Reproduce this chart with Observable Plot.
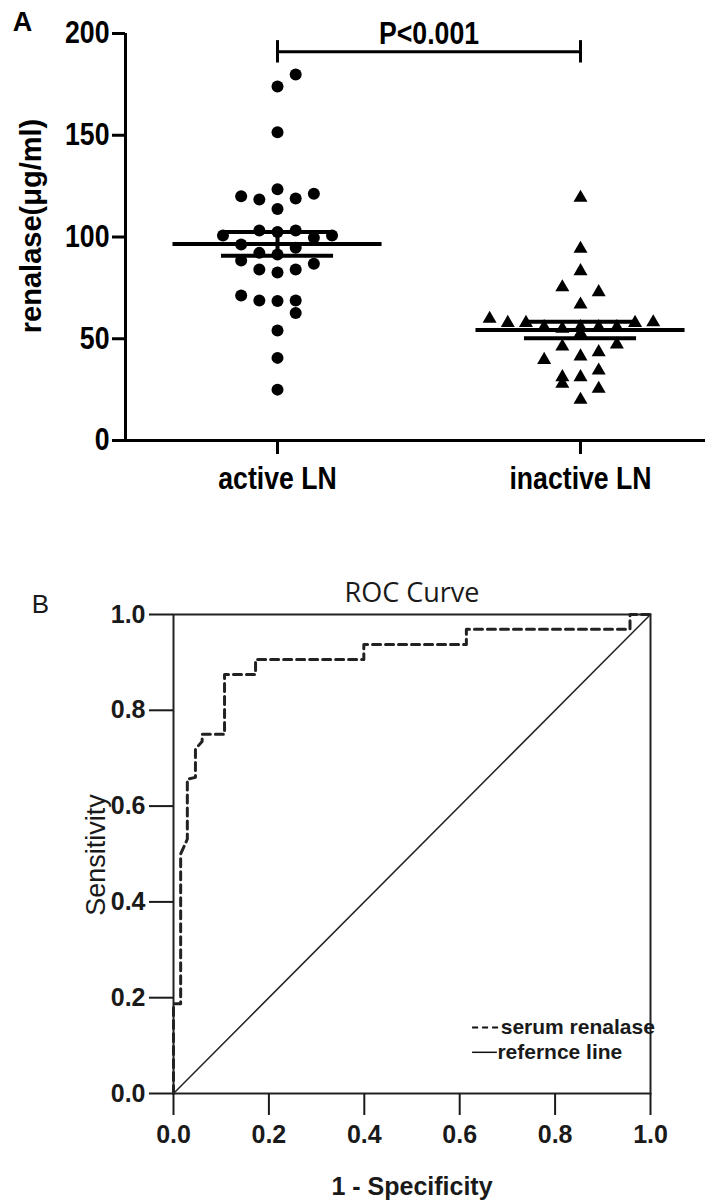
<!DOCTYPE html>
<html><head><meta charset="utf-8">
<script src="https://cdn.jsdelivr.net/npm/d3@7"></script>
<script src="https://cdn.jsdelivr.net/npm/@observablehq/plot@0.6"></script>
<style>
html,body{margin:0;padding:0;background:#fff;}
#chart svg{display:block;}
</style></head><body><div id="chart"></div>
<script>
// ---------- Panel A data ----------
const groups = ["active LN", "inactive LN"];
const yTicksA = [0, 50, 100, 150, 200];
const activeValues = [179.9,174,151.5,120,118.4,123.5,118.9,121.2,113.8,100.7,103.2,102.4,103.2,100.7,99.6,96.3,94.7,92.2,91.4,88.5,86.8,84,82.6,84,71.3,68.8,68.5,68.8,62.7,54,40.6,25];
const activeSlots  = [1,0,0,-2,-1,0,1,2,0,-3,-1,0,1,3,2,-2,1,-1,0,-2,2,-1,0,1,-2,-1,0,1,1,0,0,0];
const inactiveValues = [119.3,94.2,83.2,75.3,72.9,66.8,59.8,57.8,57.8,55.7,54.9,55.7,55.7,55.7,57.8,58.1,52.7,46.2,47.2,39.6,41.3,43.4,34.4,31.1,27.9,31.1,25.4,20];
const inactiveSlots  = [0,0,0,-1,1,0,-5,-4,-3,-2,-1,0,1,2,3,4,0,-1,2,-2,0,1,1,-1,-1,0,1,0];
const pLabel = "P<0.001";
const yLabelA = "renalase(μg/ml)";

// ---------- Panel B data ----------
const rocFPR = [0,0,0.015,0.015,0.029,0.029,0.046,0.046,0.060,0.060,0.107,0.107,0.172,0.172,0.399,0.399,0.614,0.614,0.957,0.957,1];
const rocTPR = [0,0.1875,0.1875,0.5,0.531,0.656,0.66,0.719,0.735,0.75,0.75,0.875,0.875,0.906,0.906,0.9375,0.9375,0.969,0.969,1,1];
const refFPR = [0, 1];
const refTPR = [0, 1];
const rocTicks = [0, 0.2, 0.4, 0.6, 0.8, 1.0];
const legendLabels = ["serum renalase", "refernce line"];

// ---------- build ----------
const sans = "'Liberation Sans',Arial,Helvetica,sans-serif";
const slotStep = 0.06;

const activeData = activeValues.map((v, i) => ({x: 1 + activeSlots[i] * slotStep, y: v}));
const inactiveData = inactiveValues.map((v, i) => ({x: 2 + inactiveSlots[i] * slotStep, y: v}));
const stats = [activeValues, inactiveValues].map((vals, i) => {
  const m = d3.mean(vals), s = d3.deviation(vals) / Math.sqrt(vals.length);
  return {x: i + 1, mean: m, lo: m - s, hi: m + s};
});
const xDomA = [0.4983, 2.4125];

const plotA = Plot.plot({
  width: 723, height: 530,
  marginTop: 33, marginBottom: 90, marginLeft: 125, marginRight: 18,
  style: {fontFamily: sans, color: "black", background: "white"},
  x: {domain: xDomA},
  y: {domain: [0, 200]},
  marks: [
    Plot.ruleY([0], {strokeWidth: 3}),
    Plot.ruleX([xDomA[0]], {y1: 0, y2: 200, strokeWidth: 3}),
    Plot.axisY({ticks: yTicksA, tickSize: 13, tickPadding: 3, strokeWidth: 3, fontSize: 31, fontWeight: "bold", label: null}),
    Plot.axisX({ticks: [1, 2], tickFormat: d => groups[d - 1], tickSize: 14, tickPadding: 12, strokeWidth: 3, fontSize: 31, fontWeight: "bold", label: null}),
    Plot.text([yLabelA], {frameAnchor: "left", textAnchor: "middle", lineAnchor: "middle", rotate: -90, dx: -94, dy: -11, fontSize: 29, fontWeight: "bold"}),
    Plot.text(["A"], {frameAnchor: "top-left", textAnchor: "middle", lineAnchor: "middle", dx: -103, dy: -11, fontSize: 27, fontWeight: "bold"}),
    Plot.dot(activeData, {x: "x", y: "y", r: 6, fill: "black"}),
    Plot.dot(inactiveData, {x: "x", y: "y", r: 5.2, symbol: "triangle", fill: "black"}),
    Plot.ruleY(stats, {y: "mean", x1: d => d.x - 0.345, x2: d => d.x + 0.345, strokeWidth: 4}),
    Plot.ruleY(stats, {y: "hi", x1: d => d.x - 0.185, x2: d => d.x + 0.185, strokeWidth: 4}),
    Plot.ruleY(stats, {y: "lo", x1: d => d.x - 0.185, x2: d => d.x + 0.185, strokeWidth: 4}),
    Plot.ruleX(stats, {x: "x", y1: "lo", y2: "hi", strokeWidth: 4}),
    Plot.ruleY([191], {x1: 1, x2: 2, strokeWidth: 3}),
    Plot.ruleX([1, 2], {y1: 185.5, y2: 196.5, strokeWidth: 3}),
    Plot.text([pLabel], {x: 1.5, y: 199.5, fontSize: 31, fontWeight: "bold"})
  ]
});

const roc = rocFPR.map((f, i) => ({x: f, y: rocTPR[i]}));
const ref = refFPR.map((f, i) => ({x: f, y: refTPR[i]}));

const plotB = Plot.plot({
  width: 723, height: 672,
  marginTop: 84, marginBottom: 109, marginLeft: 173, marginRight: 73,
  style: {fontFamily: sans, color: "#1a1a1a", background: "white"},
  x: {domain: [0, 1]},
  y: {domain: [0, 1]},
  marks: [
    Plot.frame({stroke: "#222", strokeWidth: 2}),
    Plot.axisY({ticks: rocTicks, tickFormat: ".1f", tickSize: 24, tickPadding: 4, strokeWidth: 2, fontSize: 25, fontWeight: "bold", label: null}),
    Plot.axisX({ticks: rocTicks, tickFormat: ".1f", tickSize: 22, tickPadding: 10, strokeWidth: 2, fontSize: 25, fontWeight: "bold", label: null}),
    Plot.line(ref, {x: "x", y: "y", stroke: "#222", strokeWidth: 1.5}),
    Plot.line(roc, {x: "x", y: "y", stroke: "#222", strokeWidth: 3, strokeDasharray: "8,5", curve: "linear"}),
    Plot.text(["ROC Curve"], {frameAnchor: "top", lineAnchor: "bottom", dy: -13, fontSize: 27, fontFamily: "'Open Sans','Noto Sans',sans-serif"}),
    Plot.text(["B"], {frameAnchor: "top-left", textAnchor: "middle", lineAnchor: "middle", dx: -133, dy: -10, fontSize: 26}),
    Plot.text(["Sensitivity"], {frameAnchor: "left", textAnchor: "middle", lineAnchor: "middle", rotate: -90, dx: -77, dy: 1, fontSize: 27}),
    Plot.text(["1 - Specificity"], {frameAnchor: "bottom", lineAnchor: "middle", dy: 93, fontSize: 25, fontWeight: "bold"}),
    Plot.ruleY([0.138], {x1: 0.627, x2: 0.684, stroke: "#111", strokeWidth: 2, strokeDasharray: "6,4"}),
    Plot.ruleY([0.086], {x1: 0.627, x2: 0.679, stroke: "#111", strokeWidth: 1.5}),
    Plot.text([legendLabels[0]], {x: 0.686, y: 0.138, textAnchor: "start", fontSize: 21, fontWeight: "bold"}),
    Plot.text([legendLabels[1]], {x: 0.679, y: 0.086, textAnchor: "start", fontSize: 21, fontWeight: "bold"})
  ]
});

const c = document.getElementById("chart");
c.appendChild(plotA);
c.appendChild(plotB);

// condensed look (Helvetica Condensed style) for panel A labels
function condense(nodes, f) {
  nodes.forEach(t => {
    const L = t.getComputedTextLength();
    if (L > 0) {
      t.setAttribute("textLength", (L * f).toFixed(1));
      t.setAttribute("lengthAdjust", "spacingAndGlyphs");
    }
  });
}
const textsA = Array.from(plotA.querySelectorAll("text")).filter(t => t.textContent !== yLabelA && t.textContent !== "A");
condense(textsA, 0.86);
</script>
</body></html>
